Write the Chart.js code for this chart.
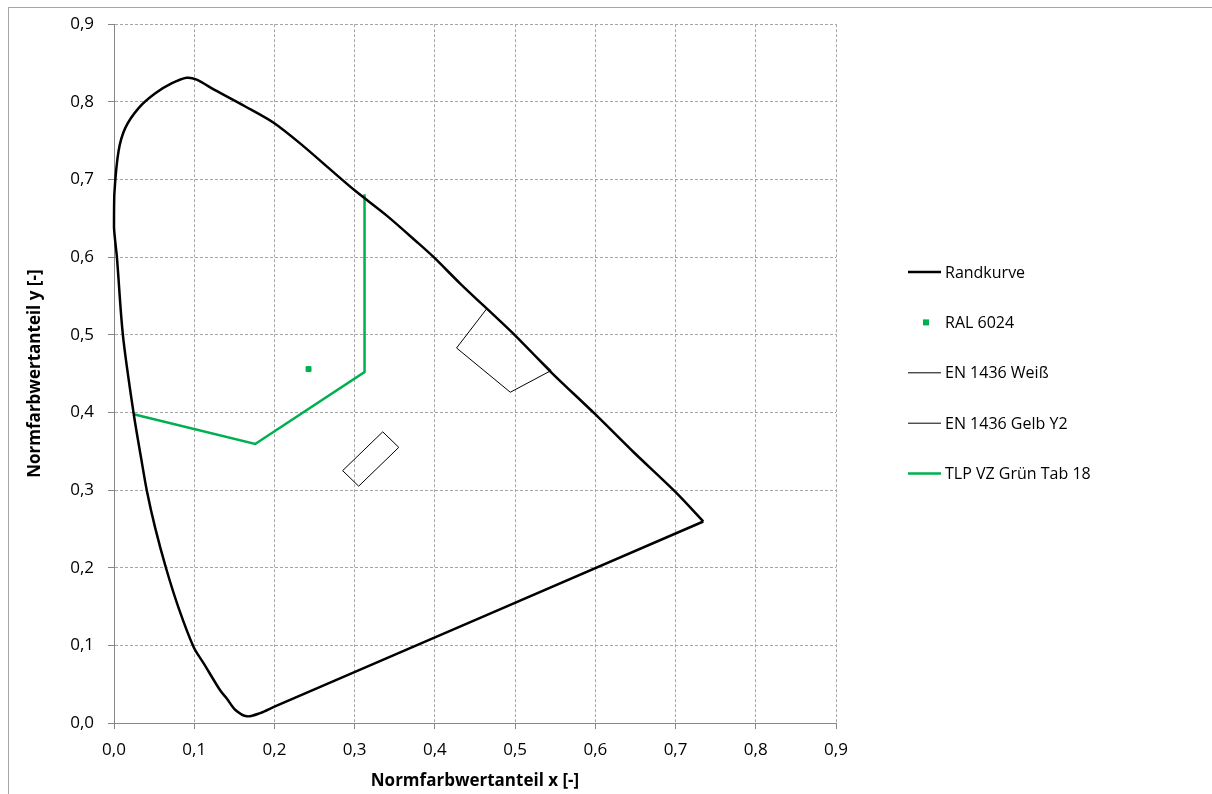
<!DOCTYPE html>
<html>
<head>
<meta charset="utf-8">
<script src="https://cdn.jsdelivr.net/npm/chart.js@4"></script>
<style>
  html, body { margin: 0; padding: 0; background: #fff; }
  #wrap { position: relative; width: 1212px; height: 794px; overflow: hidden; }
  #frame { position: absolute; left: 8px; top: 7px; width: 1210px; height: 790px;
           border-left: 1px solid #a6a6a6; border-top: 1px solid #a6a6a6; }
  canvas { position: absolute; left: 0; top: 0; }
</style>
</head>
<body>
<div id="wrap">
  <div id="frame"></div>
  <canvas id="chart" width="1212" height="794"></canvas>
</div>
<script>
// Spectral locus (closed, starting and ending at the red end)
const locusX = [0.7346, 0.2000, 0.1823, 0.1657, 0.1510, 0.1408, 0.1325, 0.1120, 0.0992, 0.0805,
                0.0650, 0.0515, 0.0410, 0.0340, 0.0245, 0.0112, 0.0037, 0.0000, 0.0004, 0.0057,
                0.0141, 0.0307, 0.0515, 0.0723, 0.0905, 0.1030, 0.1260, 0.1636, 0.1990, 0.2360,
                0.2695, 0.3007, 0.3400, 0.3776, 0.3995, 0.4315, 0.5005, 0.5437, 0.5998, 0.6475,
                0.6998, 0.7346];
const locusY = [0.2595, 0.0210, 0.0128, 0.0086, 0.0171, 0.0312, 0.0418, 0.0765, 0.0980, 0.1483,
                0.1990, 0.2506, 0.2989, 0.3400, 0.3986, 0.4987, 0.5990, 0.6386, 0.6810, 0.7366,
                0.7665, 0.7920, 0.8110, 0.8240, 0.8310, 0.8285, 0.8150, 0.7940, 0.7730, 0.7430,
                0.7130, 0.6854, 0.6535, 0.6195, 0.5990, 0.5660, 0.4987, 0.4530, 0.3977, 0.3490,
                0.2976, 0.2595];

// RAL 6024 colour point
const ralX = [0.2425];
const ralY = [0.4558];

// EN 1436 colour boxes
const weissX = [0.355, 0.305, 0.285, 0.335, 0.355];
const weissY = [0.355, 0.305, 0.325, 0.375, 0.355];
const gelbX  = [0.545, 0.494, 0.427, 0.465, 0.545];
const gelbY  = [0.454, 0.426, 0.483, 0.534, 0.454];

// TLP VZ green boundary
const tlpX = [0.0245, 0.176, 0.3123, 0.3123];
const tlpY = [0.3977, 0.3593, 0.4519, 0.681];

// Axis ticks
const tickValues = [0, 0.1, 0.2, 0.3, 0.4, 0.5, 0.6, 0.7, 0.8, 0.9];

const seriesNames = ['Randkurve', 'RAL 6024', 'EN 1436 Weiß', 'EN 1436 Gelb Y2', 'TLP VZ Grün Tab 18'];

const toPoints = (xs, ys) => xs.map((x, i) => ({ x, y: ys[i] }));
const fmt = v => (Math.round(v * 10) / 10).toFixed(1).replace('.', ',');

const GREEN = '#00b050';
const FONT = 'Open Sans';

const datasets = [
  { label: seriesNames[0], data: toPoints(locusX, locusY), showLine: true, borderColor: '#000',
    borderWidth: 2.5, pointRadius: 0, tension: 0.3, legendType: 'line' },
  { label: seriesNames[1], data: toPoints(ralX, ralY), showLine: false, backgroundColor: GREEN,
    borderColor: GREEN, borderWidth: 1, pointStyle: 'rect', pointRadius: 3.5, legendType: 'point' },
  { label: seriesNames[2], data: toPoints(weissX, weissY), showLine: true, borderColor: '#000',
    borderWidth: 1, pointRadius: 0, tension: 0, legendType: 'line' },
  { label: seriesNames[3], data: toPoints(gelbX, gelbY), showLine: true, borderColor: '#000',
    borderWidth: 1, pointRadius: 0, tension: 0, legendType: 'line' },
  { label: seriesNames[4], data: toPoints(tlpX, tlpY), showLine: true, borderColor: GREEN,
    borderWidth: 2.5, pointRadius: 0, tension: 0, legendType: 'line' }
];
datasets.forEach(d => { d.clip = 6; d.fill = false; });

// Legend drawn as a column at the right side of the plot
const sideLegend = {
  id: 'sideLegend',
  afterDraw(chart, args, opts) {
    const ctx = chart.ctx;
    ctx.save();
    ctx.font = opts.font;
    ctx.textBaseline = 'middle';
    ctx.textAlign = 'left';
    chart.data.datasets.forEach((ds, i) => {
      const y = opts.top + i * opts.spacing;
      if (ds.legendType === 'line') {
        ctx.strokeStyle = ds.borderColor;
        ctx.lineWidth = ds.borderWidth;
        ctx.beginPath();
        ctx.moveTo(opts.lineStart, y);
        ctx.lineTo(opts.lineEnd, y);
        ctx.stroke();
      } else {
        ctx.fillStyle = ds.backgroundColor;
        ctx.fillRect(opts.markerX - 3, y - 3, 6, 6);
      }
      ctx.fillStyle = '#000';
      ctx.fillText(ds.label, opts.textX, y + 1);
    });
    ctx.restore();
  }
};

const gridCommon = {
  color: '#a6a6a6',
  lineWidth: 1,
  tickLength: 6,
  tickColor: '#868686',
  tickWidth: 1
};
const borderCommon = { color: '#868686', width: 1, dash: [3, 2] };

new Chart(document.getElementById('chart'), {
  type: 'scatter',
  data: { datasets },
  plugins: [sideLegend],
  options: {
    responsive: false,
    animation: false,
    events: [],
    layout: { padding: { left: 0, top: 19, right: 376, bottom: 0 } },
    plugins: {
      legend: { display: false },
      tooltip: { enabled: false },
      sideLegend: {
        font: '16px "' + FONT + '"',
        top: 272, spacing: 50.4,
        lineStart: 908, lineEnd: 941, markerX: 926, textX: 945
      }
    },
    scales: {
      x: {
        type: 'linear', min: 0, max: 0.9,
        afterBuildTicks: s => { s.ticks = tickValues.map(v => ({ value: v })); },
        afterFit: s => { s.height = 71; },
        ticks: { callback: v => fmt(v), color: '#000', padding: 11,
                 font: { family: FONT, size: 17 }, maxRotation: 0, autoSkip: false },
        grid: gridCommon,
        border: borderCommon,
        title: { display: true, text: 'Normfarbwertanteil x [-]', color: '#000',
                 font: { family: FONT, size: 17, weight: 'bold' }, padding: { top: 0, bottom: 3 } }
      },
      y: {
        type: 'linear', min: 0, max: 0.9,
        afterBuildTicks: s => { s.ticks = tickValues.map(v => ({ value: v })); },
        afterFit: s => { s.width = 114; },
        ticks: { callback: v => fmt(v), color: '#000', padding: 14,
                 font: { family: FONT, size: 17 }, autoSkip: false },
        grid: gridCommon,
        border: borderCommon,
        title: { display: true, text: 'Normfarbwertanteil y [-]', color: '#000',
                 font: { family: FONT, size: 17, weight: 'bold' }, padding: { top: 25, bottom: 0 } }
      }
    }
  }
});
</script>
</body>
</html>
